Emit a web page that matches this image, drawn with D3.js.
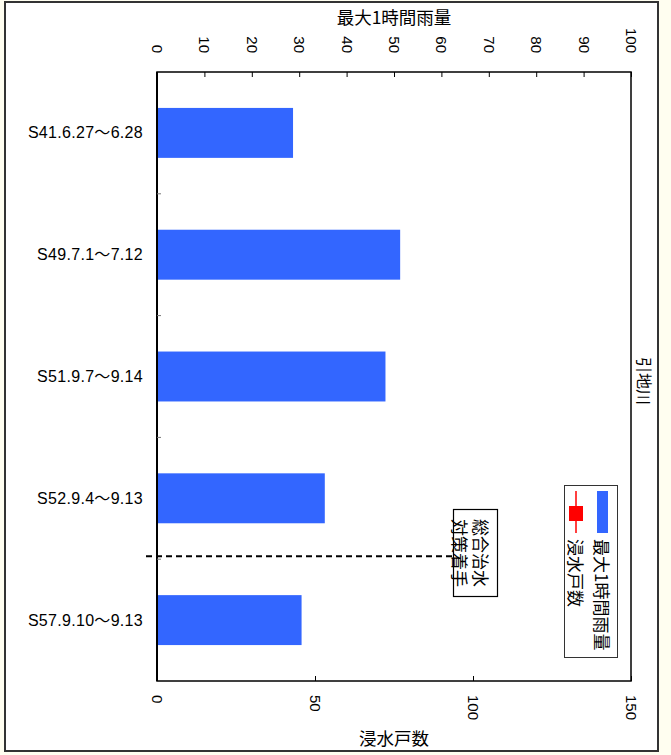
<!DOCTYPE html>
<html><head><meta charset="utf-8">
<script src="https://cdn.jsdelivr.net/npm/d3@7"></script>
<style>
html,body{margin:0;padding:0;background:#fffef0;}
svg{display:block;}
text{font-family:"Liberation Sans","Noto Sans CJK JP",sans-serif;fill:#000;}
.jp{font-family:"Noto Sans CJK JP","Liberation Sans",sans-serif;}
</style></head>
<body>
<script>
const categories = ["S41.6.27〜6.28","S49.7.1〜7.12","S51.9.7〜9.14","S52.9.4〜9.13","S57.9.10〜9.13"];
const rainfall = [28.7, 51.3, 48.2, 35.4, 30.5];
const inundation = [null, null, null, null, null];
const rainTicks = [0,10,20,30,40,50,60,70,80,90,100];
const houseTicks = [0,50,100,150];
const seriesNames = ["最大1時間雨量","浸水戸数"];
const topTitle = "最大1時間雨量";
const bottomTitle = "浸水戸数";
const riverName = "引地川";
const noteLines = ["総合治水","対策着手"];
const noteAfterIndex = 3;

const W = 671, H = 755;
const L = 157, R = 631, T = 72, B = 681;

const svg = d3.select("body").append("svg").attr("width", W).attr("height", H);

// outer frame
svg.append("rect").attr("x", 5).attr("y", 2).attr("width", 653).attr("height", 749)
  .attr("fill", "#fff").attr("stroke", "#333").attr("stroke-width", 2);

const x = d3.scaleLinear().domain([0,100]).range([L,R]);
const x2 = d3.scaleLinear().domain([0,150]).range([L,R]);
const y = d3.scaleBand().domain(categories).range([T,B]).paddingInner(0.59).paddingOuter(0.295);

// bars
svg.append("g").selectAll("rect").data(rainfall).join("rect")
  .attr("x", x(0)).attr("y", (d,i)=>y(categories[i]))
  .attr("width", d=>x(d)-x(0)).attr("height", y.bandwidth())
  .attr("fill", "#3366ff");

// inundation points (none drawn where null)
svg.append("g").selectAll("rect").data(inundation.map((d,i)=>({d,i})).filter(o=>o.d!=null)).join("rect")
  .attr("x", o=>x2(o.d)-7).attr("y", o=>y(categories[o.i])+y.bandwidth()/2-7)
  .attr("width",14).attr("height",14).attr("fill","red");

// plot frame
svg.append("rect").attr("x", L).attr("y", T).attr("width", R-L).attr("height", B-T)
  .attr("fill","none").attr("stroke","#000").attr("stroke-width",1.5);
svg.append("line").attr("x1",L).attr("x2",L).attr("y1",T).attr("y2",B).attr("stroke","#000").attr("stroke-width",2);

// top axis
const topAxis = d3.axisTop(x).tickValues(rainTicks).tickSizeInner(-5).tickSizeOuter(0).tickFormat(d3.format("d"));
const gt = svg.append("g").attr("transform",`translate(0,${T})`).call(topAxis);
gt.select(".domain").remove();
gt.selectAll(".tick line").attr("stroke","#000");
gt.selectAll(".tick text").attr("font-size",15).attr("text-anchor","end")
  .attr("dominant-baseline","central")
  .attr("x",0).attr("y",0).attr("dy",null)
  .attr("transform",`translate(0,${53-T}) rotate(90)`);

// bottom axis
const botAxis = d3.axisBottom(x2).tickValues(houseTicks).tickSizeInner(-5).tickSizeOuter(0).tickFormat(d3.format("d"));
const gb = svg.append("g").attr("transform",`translate(0,${B})`).call(botAxis);
gb.select(".domain").remove();
gb.selectAll(".tick line").attr("stroke","#000");
gb.selectAll(".tick text").attr("font-size",15).attr("text-anchor","start")
  .attr("dominant-baseline","central")
  .attr("x",0).attr("y",0).attr("dy",null)
  .attr("transform",`translate(0,${695-B}) rotate(90)`);

// left category ticks at band boundaries
const step = y.step();
svg.append("g").selectAll("line").data(categories.slice(1)).join("line")
  .attr("x1",L).attr("x2",L+4)
  .attr("y1",d=>y(d)-y.paddingInner()*step/2).attr("y2",d=>y(d)-y.paddingInner()*step/2)
  .attr("stroke","#777").attr("stroke-width",1);

// category labels
svg.append("g").selectAll("text").data(categories).join("text")
  .attr("x",143).attr("y",d=>y(d)+y.bandwidth()/2)
  .attr("text-anchor","end").attr("dominant-baseline","central")
  .attr("font-size",16).attr("letter-spacing","0.3px").text(d=>d);

// titles
svg.append("text").attr("class","jp").attr("x",(L+R)/2).attr("y",16).attr("text-anchor","middle")
  .attr("dominant-baseline","central").attr("font-size",17.5).text(topTitle);
svg.append("text").attr("class","jp").attr("x",(L+R)/2).attr("y",737).attr("text-anchor","middle")
  .attr("dominant-baseline","central").attr("font-size",17.5).text(bottomTitle);
svg.append("text").attr("class","jp").attr("transform",`translate(645,381) rotate(90)`)
  .attr("text-anchor","middle").attr("dominant-baseline","central").attr("font-size",16).text(riverName);

// dashed divider
const divY = y(categories[noteAfterIndex+1]) - y.paddingInner()*step/2 - 3;
svg.append("line").attr("x1",146).attr("x2",453).attr("y1",divY).attr("y2",divY)
  .attr("stroke","#000").attr("stroke-width",2).attr("stroke-dasharray","6,4");

// note box
svg.append("rect").attr("x",453.5).attr("y",509.5).attr("width",44).attr("height",87)
  .attr("fill","#fff").attr("stroke","#000").attr("stroke-width",1.2);
noteLines.forEach((t,i)=>{
  svg.append("text").attr("class","jp").attr("transform",`translate(${481-i*21},553) rotate(90)`)
    .attr("text-anchor","middle").attr("dominant-baseline","central").attr("font-size",17).text(t);
});

// legend
svg.append("rect").attr("x",564.5).attr("y",485.5).attr("width",53).attr("height",172)
  .attr("fill","#fff").attr("stroke","#333").attr("stroke-width",1);
svg.append("rect").attr("x",597).attr("y",491).attr("width",11).attr("height",42).attr("fill","#3366ff");
svg.append("line").attr("x1",576).attr("x2",576).attr("y1",491).attr("y2",533).attr("stroke","red").attr("stroke-width",1.5);
svg.append("rect").attr("x",569).attr("y",506).attr("width",14).attr("height",15).attr("fill","red");
[602,576].forEach((cx,i)=>{
  svg.append("text").attr("class","jp").attr("transform",`translate(${cx},539) rotate(90)`)
    .attr("text-anchor","start").attr("dominant-baseline","central").attr("font-size",17).text(seriesNames[i]);
});
</script>
</body></html>
